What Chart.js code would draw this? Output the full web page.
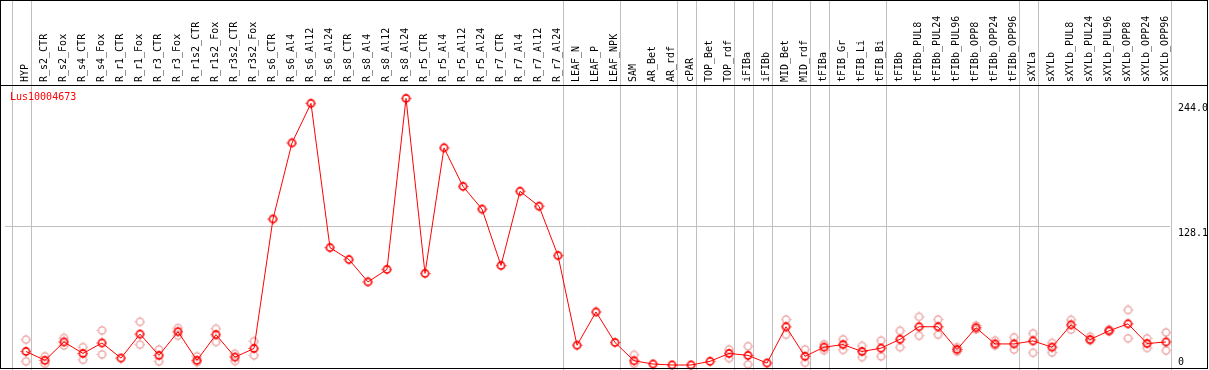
<!DOCTYPE html>
<html>
<head>
<meta charset="utf-8">
<script src="https://cdn.jsdelivr.net/npm/chart.js@4.4.1/dist/chart.umd.min.js"></script>
<style>
  html, body { margin: 0; padding: 0; background: #fff; }
  canvas { display: block; }
</style>
</head>
<body>
<canvas id="chart" width="1209" height="370"></canvas>
<script>
// categories (samples)
const categories = [
  'HYP', 'R_s2_CTR', 'R_s2_Fox', 'R_s4_CTR', 'R_s4_Fox', 'R_r1_CTR', 'R_r1_Fox',
  'R_r3_CTR', 'R_r3_Fox', 'R_r1s2_CTR', 'R_r1s2_Fox', 'R_r3s2_CTR', 'R_r3s2_Fox',
  'R_s6_CTR', 'R_s6_Al4', 'R_s6_Al12', 'R_s6_Al24', 'R_s8_CTR', 'R_s8_Al4',
  'R_s8_Al12', 'R_s8_Al24', 'R_r5_CTR', 'R_r5_Al4', 'R_r5_Al12', 'R_r5_Al24',
  'R_r7_CTR', 'R_r7_Al4', 'R_r7_Al12', 'R_r7_Al24', 'LEAF_N', 'LEAF_P', 'LEAF_NPK',
  'SAM', 'AR_Bet', 'AR_rdf', 'cPAR', 'TOP_Bet', 'TOP_rdf', 'iFIBa', 'iFIBb',
  'MID_Bet', 'MID_rdf', 'tFIBa', 'tFIB_Gr', 'tFIB_Li', 'tFIB_Bi', 'tFIBb',
  'tFIBb_PUL8', 'tFIBb_PUL24', 'tFIBb_PUL96', 'tFIBb_OPP8', 'tFIBb_OPP24', 'tFIBb_OPP96',
  'sXYLa', 'sXYLb', 'sXYLb_PUL8', 'sXYLb_PUL24', 'sXYLb_PUL96', 'sXYLb_OPP8',
  'sXYLb_OPP24', 'sXYLb_OPP96'
];

// mean expression
const meanValues = [
  12.5, 4.3, 21.3, 10.7, 20.4, 6.4, 28.6, 8.9, 30.8, 4.3, 28.1, 7.3, 15.3,
  135.1, 205.6, 242.2, 108.6, 97.6, 76.9, 88.5, 246.8, 84.8, 201.0, 165.3, 144.3,
  92.1, 160.8, 147.0, 101.3, 18.3, 49.1, 20.8,
  3.9, 0.9, 0, 0, 3.4, 10.7, 8.9, 1.8, 35.4, 8.0, 16.5, 18.9, 12.5, 15.6, 23.8,
  35.4, 35.4, 14.3, 34.5, 19.5, 19.5,
  22.3, 16.5, 37.2, 23.5, 31.7, 38.1, 19.9, 21.3
];

// replicates
const rep1 = [
  23.5, 8.0, 25.0, 16.5, 32.0, null, 40.0, 14.3, 34.2, 8.0, 33.6, 10.3, 22.0,
  null, null, null, null, null, null, null, null, null, null, null, null,
  null, null, null, null, null, null, null,
  9.4, null, null, null, null, 14.3, 17.4, null, 42.1, 14.3, 19.2, 23.8, 17.7, 22.6, 31.7,
  44.6, 42.1, 16.5, 36.6, 22.6, 25.6,
  29.3, 20.4, 41.8, 26.3, 32.9, 51.0, 24.7, 30.2
];
const rep2 = [
  3.4, 1.2, 18.0, 4.9, 9.8, null, 18.9, 3.4, 27.1, 2.7, 21.3, 3.7, 8.9,
  null, null, null, null, null, null, null, null, null, null, null, null,
  null, null, null, null, null, null, null,
  1.2, null, null, null, null, 6.4, 0.6, null, 28.1, 2.1, 13.7, 14.0, 7.3, 8.0, 16.5,
  27.1, 28.1, 12.5, 32.9, 18.0, 14.3,
  11.3, 11.6, 32.7, 22.6, 31.1, 24.7, 15.8, 13.4
];

const yTicks = [0, 128.1, 244.0];
// group separators: drawn right after these category indices
const groupBreaks = [-1, 0, 28, 31, 34, 35, 37, 38, 39, 41, 42, 45, 52, 53, 60];

const FONT = '10px "DejaVu Sans Mono", monospace';

function makeMarker(color, lw) {
  const c = document.createElement('canvas');
  c.width = 11; c.height = 11;
  const g = c.getContext('2d');
  g.strokeStyle = color;
  g.lineWidth = lw;
  g.beginPath();
  g.arc(5.5, 5.5, 3.6, 0, Math.PI * 2);
  g.stroke();
  g.lineWidth = 1;
  g.beginPath();
  g.moveTo(5.5, 0.5); g.lineTo(5.5, 1.5);
  g.moveTo(5.5, 9.5); g.lineTo(5.5, 10.5);
  g.moveTo(0.5, 5.5); g.lineTo(1.5, 5.5);
  g.moveTo(9.5, 5.5); g.lineTo(10.5, 5.5);
  g.stroke();
  return c;
}

const toPoints = arr => arr.map((v, i) => ({ x: i, y: v }));

const framePlugin = {
  id: 'frame',
  beforeDatasetsDraw(chart) {
    const { ctx, scales: { x } } = chart;
    ctx.save();
    ctx.strokeStyle = '#c0c0c0';
    ctx.lineWidth = 1;
    groupBreaks.forEach(k => {
      const px = Math.round(x.getPixelForValue(k + 0.25)) + 0.5;
      ctx.beginPath();
      ctx.moveTo(px, 0);
      ctx.lineTo(px, chart.height);
      ctx.stroke();
    });
    ctx.restore();
  },
  afterDraw(chart) {
    const { ctx, chartArea, scales: { y } } = chart;
    ctx.save();
    ctx.strokeStyle = '#000';
    ctx.lineWidth = 1;
    ctx.strokeRect(0.5, 0.5, 1207, 368);
    ctx.beginPath();
    ctx.moveTo(0, chartArea.top + 0.5);
    ctx.lineTo(1208, chartArea.top + 0.5);
    ctx.stroke();
    // y labels
    ctx.font = FONT;
    ctx.fillStyle = '#000';
    ctx.textAlign = 'left';
    yTicks.forEach(v => {
      const py = y.getPixelForValue(v);
      ctx.textBaseline = v === 0 ? 'bottom' : 'top';
      ctx.fillText(v === 0 ? '0' : v.toFixed(1), chartArea.right + 8, py + 2);
    });
    // series name
    ctx.fillStyle = '#ff0000';
    ctx.textBaseline = 'middle';
    ctx.fillText(chart.data.datasets[0].label, 10, chartArea.top + 12);
    ctx.restore();
  }
};

new Chart(document.getElementById('chart'), {
  type: 'line',
  data: {
    datasets: [{
      label: 'Lus10004673',
      data: toPoints(meanValues),
      borderColor: '#ff0000',
      borderWidth: 1,
      pointStyle: makeMarker('#ff0000', 1.6),
      clip: 6
    }, {
      label: 'rep1',
      data: toPoints(rep1),
      showLine: false,
      pointStyle: makeMarker('#eb9b9b', 1.3),
      clip: 6
    }, {
      label: 'rep2',
      data: toPoints(rep2),
      showLine: false,
      pointStyle: makeMarker('#eb9b9b', 1.3),
      clip: 6
    }]
  },
  options: {
    responsive: false,
    animation: false,
    devicePixelRatio: 1,
    layout: { padding: { left: 2, right: 2, top: 0, bottom: 2 } },
    plugins: { legend: { display: false }, tooltip: { enabled: false } },
    scales: {
      x: {
        type: 'linear',
        position: 'top',
        min: -1.105,
        max: 60.21,
        afterBuildTicks: s => { s.ticks = categories.map((c, i) => ({ value: i })); },
        afterFit: s => { s.height = 85; },
        grid: { display: false, drawTicks: false, tickLength: 0 },
        border: { display: false },
        ticks: {
          autoSkip: false,
          minRotation: 90,
          maxRotation: 90,
          padding: 3,
          labelOffset: 11,
          color: '#000',
          font: { family: '"DejaVu Sans Mono", monospace', size: 10 },
          callback: v => categories[v]
        }
      },
      y: {
        type: 'linear',
        position: 'right',
        min: 0,
        max: 259.2,
        afterBuildTicks: s => { s.ticks = yTicks.map(v => ({ value: v })); },
        afterFit: s => { s.width = 37; },
        grid: {
          drawTicks: false,
          color: c => (c.tick && c.tick.value === 128.1) ? '#c0c0c0' : 'rgba(0,0,0,0)'
        },
        border: { display: false },
        ticks: { display: false }
      }
    }
  },
  plugins: [framePlugin]
});
</script>
</body>
</html>
